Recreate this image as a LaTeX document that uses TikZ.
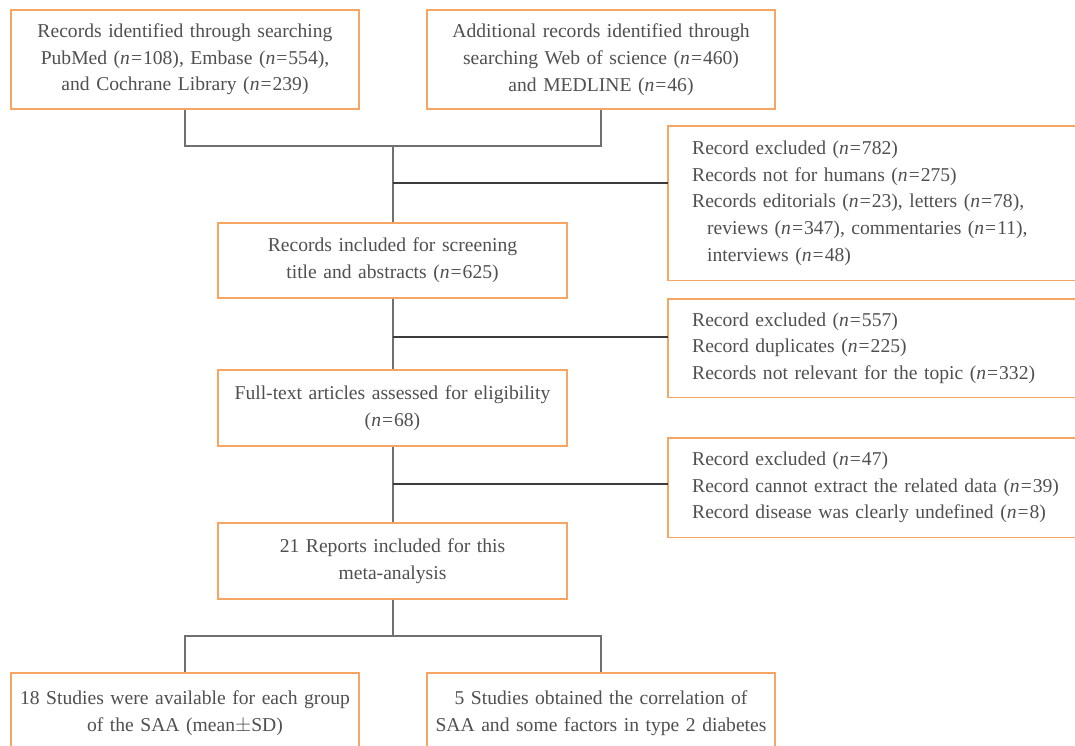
\documentclass[tikz,border=0pt]{standalone}
\usepackage{fontspec}
\setmainfont{Liberation Serif}[WordSpace=0.8]
\definecolor{boxorange}{HTML}{F6A562}
\definecolor{txtgray}{HTML}{505050}
\definecolor{linegray}{HTML}{707070}
\definecolor{darkline}{HTML}{3C3C3C}
\newcommand{\nq}[1]{\textit{n}\kern1pt=\kern1pt#1}
\begin{document}
\begin{tikzpicture}[x=1pt,y=-1pt,
  every node/.style={font=\fontsize{19.6}{26.7}\selectfont, text=txtgray},
  mainbox/.style={draw=boxorange, line width=1.4pt, inner sep=0pt, align=center, text width=#1},
  mainbox/.default=348pt,
  exclbox/.style={draw=none, inner ysep=0pt, inner xsep=24pt, align=left, text width=380pt, anchor=west},
  boxline/.style={draw=boxorange, line width=1.4pt},
  vline/.style={draw=linegray, line width=2pt},
  hline/.style={draw=darkline, line width=1.1pt}]
\useasboundingbox (0,0) rectangle (1075,745);
\clip (0,0) rectangle (1075,745);
\fill[white] (0,0) rectangle (1075,745);

% main boxes
\node[mainbox, minimum height=99pt] (b1) at (185,59.5)
  {Records identified through searching\\ PubMed (\nq{108}), Embase (\nq{554}),\\ and Cochrane Library (\nq{239})};
\node[mainbox, minimum height=99pt] (b2) at (601,59.5)
  {Additional records identified through\\ searching Web of science (\nq{460})\\ and MEDLINE (\nq{46})};
\node[mainbox=349pt, minimum height=75pt] (screen) at (392.5,260.5)
  {Records included for screening\\ title and abstracts (\nq{625})};
\node[mainbox=349pt, minimum height=76pt] (full) at (392.5,408)
  {Full-text articles assessed for eligibility\\ (\nq{68})};
\node[mainbox=349pt, minimum height=76pt] (rep) at (392.5,561)
  {21 Reports included for this\\ meta-analysis};
\node[mainbox, minimum height=80pt] (s18) at (185,713)
  {18 Studies were available for each group\\ of the SAA (mean$\pm$SD)};
\node[mainbox, minimum height=80pt] (s5) at (601,713)
  {5 Studies obtained the correlation of\\ SAA and some factors in type 2 diabetes};

% exclusion boxes (open on the right)
\node[exclbox, minimum height=154pt] (e1) at (668,203)
  {Record excluded (\nq{782})\\
   Records not for humans (\nq{275})\\
   Records editorials (\nq{23}), letters (\nq{78}),\\
   \hspace*{15pt}reviews (\nq{347}), commentaries (\nq{11}),\\
   \hspace*{15pt}interviews (\nq{48})};
\node[exclbox, minimum height=98pt] (e2) at (668,348)
  {Record excluded (\nq{557})\\
   Record duplicates (\nq{225})\\
   Records not relevant for the topic (\nq{332})};
\node[exclbox, minimum height=99pt] (e3) at (668,487.5)
  {Record excluded (\nq{47})\\
   Record cannot extract the related data (\nq{39})\\
   Record disease was clearly undefined (\nq{8})};
\foreach \e in {e1,e2,e3}
  \draw[boxline] (\e.north east) -- (\e.north west) -- (\e.south west) -- (\e.south east);

% junction coordinates
\coordinate (j1) at (392.5,146);
\coordinate (k1) at (392.5,183);
\coordinate (k2) at (392.5,337);
\coordinate (k3) at (392.5,484);
\coordinate (j2) at (392.5,636);

% connectors
\draw[vline] (b1.south) |- (j1);
\draw[vline] (b2.south) |- (j1);
\draw[vline] (j1) -- (screen.north);
\draw[vline] (screen.south) -- (full.north);
\draw[vline] (full.south) -- (rep.north);
\draw[vline] (rep.south) -- (j2);
\draw[vline] (j2) -| (s18.north);
\draw[vline] (j2) -| (s5.north);
\draw[hline] (k1) -- (k1 -| e1.west);
\draw[hline] (k2) -- (k2 -| e2.west);
\draw[hline] (k3) -- (k3 -| e3.west);
\end{tikzpicture}
\end{document}
